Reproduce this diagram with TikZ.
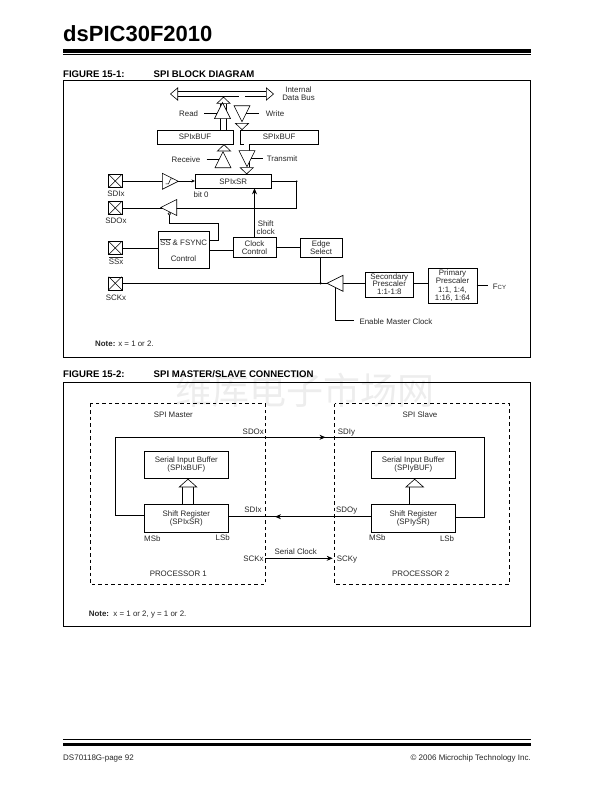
\documentclass[tikz,border=0pt]{standalone}
\usepackage{fontspec}
\setmainfont{Liberation Sans}
\newfontfamily\cjkfont{Noto Sans CJK SC}
\usetikzlibrary{arrows.meta}

\tikzset{
  lbl/.style={inner sep=0, text height=.72em, text depth=0pt, text=black!85, font=\fontsize{7.9}{8.5}\selectfont},
  multi/.style={inner sep=0, align=center, text=black!85, font=\fontsize{7.9}{8.5}\selectfont},
  head/.style={inner sep=0, anchor=west, text height=.72em, text depth=0pt, font=\fontsize{9.6}{10}\selectfont\bfseries},
  foot/.style={inner sep=0, text height=.72em, text depth=0pt, text=black!85, font=\fontsize{8}{9}\selectfont},
  blk/.style={draw, inner sep=0, outer sep=0, align=center, text=black!85, font=\fontsize{7.9}{8.5}\selectfont},
  pad/.style={draw, inner sep=0, outer sep=0, minimum size=13.2},
  tri/.style={draw, fill=white, line width=.6, line join=miter},
  wire/.style={line width=.75},
  fat/.style={line width=.6, double, double distance=5.2,
    -{Triangle[length=7pt,width=14.5pt,line width=.6pt,fill=white]}},
  fatter/.style={line width=.6, double, double distance=10,
    -{Triangle[length=8.5pt,width=19pt,line width=.6pt,fill=white]}},
  dashbox/.style={line width=.75, dash pattern=on 3.5pt off 3pt},
}
\newcommand{\tribuf}[3]{\coordinate (#1) at #2;
  \draw[tri,shift={#2},rotate=#3] (8,0) -- (-8,8) -- (-8,-8) -- cycle;}

\begin{document}
\begin{tikzpicture}[x=1pt, y=-1pt, >={Stealth[length=6pt,width=5pt]}]
\useasboundingbox (0,0) rectangle (612,791);

%page
\node [anchor=center, inner sep=0, text=black!7, font=\fontsize{37}{38}\cjkfont] (mark) at (305,390) {维库电子市场网};
\node [inner sep=0, anchor=base west, font=\fontsize{22}{26}\selectfont\bfseries] (title) at (63,42) {dsPIC30F2010};
\fill (63,49) rectangle (531,52.6);
\fill (63,53.6) rectangle (531,54.6);
\fill (63,739) rectangle (531,740);
\fill (63,742.7) rectangle (531,746);
\node [foot, anchor=west] (footl) at (63,756.5) {DS70118G-page 92};
\node [foot, anchor=east] (footr) at (531,756.5) {© 2006 Microchip Technology Inc.};

\node [head] (figa) at (63,74.3) {FIGURE 15-1:};
\node [head] (figatxt) at (153.5,74.3) {SPI BLOCK DIAGRAM};
\node [head] (figb) at (63,374) {FIGURE 15-2:};
\node [head] (figbtxt) at (153.5,374) {SPI MASTER/SLAVE CONNECTION};
\draw [line width=.8] (63.5,80.5) rectangle (530.7,357.5);
\draw [line width=.8] (63.5,382) rectangle (530.7,626);

%blocks
\node [blk, minimum width=75.4, minimum height=14.3] (bufl) at (195,137.2) {SPIxBUF};
\node [blk, minimum width=77.7, minimum height=14.3] (bufr) at (279.2,137.2) {SPIxBUF};
\node [blk, minimum width=76.7, minimum height=14] (sr) at (233.3,181.3) {SPIxSR};
\node [blk, minimum width=51.6, minimum height=36.6] (ss) at (183.5,250) {};
\node [lbl] (sstxt) at (183.5,242.3) {$\overline{\mbox{SS}}$ \& FSYNC};
\node [lbl] (ctl) at (183.5,258.3) {Control};
\node [blk, minimum width=42.4, minimum height=20.4] (cc) at (254.5,247.5) {Clock\\[-.6pt]Control};
\node [blk, minimum width=41.4, minimum height=19.4] (edge) at (321,248) {Edge\\[-.6pt]Select};
\node [blk, minimum width=48, minimum height=25.6] (sec) at (389.3,284.5) {Secondary\\[-1.6pt]Prescaler\\[-.4pt]1:1-1:8};
\node [blk, minimum width=48.4, minimum height=35] (pri) at (452.5,285.8) {Primary\\Prescaler\\1:1, 1:4,\\1:16, 1:64};

\node [pad] (sdix) at (115.2,181) {};
\node [pad] (sdox) at (115.2,208) {};
\node [pad] (ssx) at (115.2,248) {};
\node [pad] (sckx) at (115.2,283.3) {};
\foreach \p in {sdix,sdox,ssx,sckx}{
  \draw [line width=.5] (\p.north west) -- (\p.south east);
  \draw [line width=.5] (\p.north east) -- (\p.south west);
}

%lineas
\coordinate (busl) at (170,94);
\coordinate (busr) at (274,94);
\coordinate (readtip) at (223.5,96.7);
\coordinate (writetop) at (242,96.4);
\coordinate (rectip) at (224,144.3);
\coordinate (xmittip) at (246.7,174.3);
\coordinate (outcor) at (296.7,181.3);
\coordinate (sdocor) at (218.3,223.3);
\coordinate (mclk) at (320.6,283.3);
\coordinate (encor) at (335.3,320.7);
\coordinate (enend) at (354,320.7);
\coordinate (fcyend) at (488.3,285.8);

\draw [line width=.6, double, double distance=4.6,
  {Triangle[length=8pt,width=13.4pt,line width=.6pt,fill=white]}-{Triangle[length=8pt,width=13.4pt,line width=.6pt,fill=white]}]
  (busl) -- (busr);
\draw [fat] (bufl.north -| readtip) -- (readtip);
\draw [fat] (writetop) -- (writetop |- bufr.north);
\draw [fat] (sr.north -| rectip) -- (rectip);
\draw [fat] (bufr.south -| xmittip) -- (xmittip);

\draw [wire, -{Stealth[length=3.5pt,width=3pt]}] (sdix.east) -- (sdix.east -| sr.west);
\draw [wire] (sr.east) -- (outcor) |- (sdox.east);
\fill (outcor) circle (.9);
\draw [wire] (ss.east |- 0,240.7) -| (sdocor) -| (169.3,214);
\draw [wire] (ssx.east) -- (ssx.east -| ss.west);
\draw [wire] (ss.east) -- (ss.east -| cc.west);
\draw [wire] (cc.east) -- (cc.east -| edge.west);
\draw [wire, ->] (cc.north) -- (sr.south -| cc.north);
\draw [wire] (sckx.east) -- (sec.west |- sckx.east);
\draw [wire] (edge.south -| mclk) -- (mclk);
\fill (mclk) circle (1.2);
\draw [wire] (sec.east |- mclk) -- (pri.west |- mclk);
\draw [wire] (pri.east) -- (fcyend);
\draw [wire] (335.3,288) |- (enend);

%buffers
\tribuf{readb}{(222.5,110.6)}{90}
\tribuf{writeb}{(242,113.8)}{-90}
\tribuf{recb}{(223,159.8)}{90}
\tribuf{xmitb}{(247,158.7)}{-90}
\tribuf{inb}{(170.3,181.3)}{0}
\tribuf{outb}{(168.7,207.5)}{180}
\tribuf{clkb}{(335,283.3)}{180}
\draw [line width=.5] (165.5,184) -- (168.5,184) -- (170.5,179) -- (173,179);
\draw [line width=.5, fill=white] (169.3,213.8) circle (1.3);

\draw [wire] (204,113.3) -- (217.3,113.3);
\draw [wire] (246.2,113.3) -- (259,113.3);
\draw [wire] (206.7,159.3) -- (219.3,159.3);
\draw [wire] (251.2,158.3) -- (263,158.3);

%nodes
\node [lbl, anchor=west] (rd) at (179,113.3) {Read};
\node [lbl, anchor=west] (wr) at (265.7,113.3) {Write};
\node [lbl, anchor=west] (rcv) at (171.5,159.3) {Receive};
\node [lbl, anchor=west] (xmit) at (266.7,158.3) {Transmit};
\node [multi] (ibus) at (298.5,94) {Internal\\[-.6pt]Data Bus};
\node [lbl] (sditxt) at (116,192.5) {SDIx};
\node [lbl] (sdotxt) at (116,220) {SDOx};
\node [lbl] (sstxtb) at (116,260.5) {$\overline{\mbox{SSx}}$};
\node [lbl] (scktxt) at (116,297.3) {SCKx};
\node [lbl, anchor=west] (bit) at (193.5,194) {bit 0};
\node [multi] (shift) at (265.7,227.5) {Shift\\[-.6pt]clock};
\node [lbl, anchor=west] (fcy) at (492.7,285.8) {F{\fontsize{6}{6}\selectfont CY}};
\node [lbl, anchor=west] (enmc) at (359.3,320.7) {Enable Master Clock};
\node [lbl, anchor=west] (nota) at (95,343) {\textbf{Note:} x = 1 or 2.};

%master slave
\draw [dashbox] (90.3,403.5) rectangle (265.3,584);
\draw [dashbox] (334.7,403.5) rectangle (509.3,584);
\node [blk, minimum width=84, minimum height=27.6] (ibm) at (186.3,464.5) {Serial Input Buffer\\(SPIxBUF)};
\node [blk, minimum width=84, minimum height=28] (srm) at (186.3,518.3) {Shift Register\\(SPIxSR)};
\node [blk, minimum width=84.7, minimum height=27.6] (ibs) at (413.3,464.5) {Serial Input Buffer\\(SPIyBUF)};
\node [blk, minimum width=84.7, minimum height=28] (srs) at (413.3,518.3) {Shift Register\\(SPIySR)};

\coordinate (topl) at (115,437.3);
\coordinate (topr) at (484.7,437.3);
\coordinate (topm) at (325.5,437.3);
\coordinate (botm) at (275,516.7);
\coordinate (clkl) at (265.3,558.3);
\coordinate (clkr) at (332.7,558.3);

\draw [fatter] (srm.north -| 188,0) -- (188,478.8);
\draw [fatter] (srs.north -| 414.7,0) -- (414.7,478.8);
\draw [wire] (srm.west |- 0,515) -| (topl) -- (topr) |- (srs.east |- 0,517.3);
\draw [wire, ->] (topl) -- (topm);
\draw [wire] (srm.east |- botm) -- (srs.west |- botm);
\draw [wire, ->] (srs.west |- botm) -- (botm);
\draw [wire, ->] (clkl) -- (clkr);

\node [lbl] (spim) at (173.3,414.3) {SPI Master};
\node [lbl] (spis) at (420,414.3) {SPI Slave};
\node [lbl, anchor=east] (sdoxt) at (264,430.7) {SDOx};
\node [lbl, anchor=west] (sdiyt) at (337.7,430.7) {SDIy};
\node [lbl, anchor=east] (sdixt) at (261.7,509.3) {SDIx};
\node [lbl, anchor=west] (sdoyt) at (336,509.3) {SDOy};
\node [lbl, anchor=east] (sckxt) at (263.8,558.3) {SCKx};
\node [lbl, anchor=west] (sckyt) at (336.7,558.3) {SCKy};
\node [lbl] (sclk) at (295.7,551) {Serial Clock};
\node [lbl, anchor=west] (msbm) at (144,538.3) {MSb};
\node [lbl, anchor=east] (lsbm) at (230,537.3) {LSb};
\node [lbl, anchor=west] (msbs) at (369,537.3) {MSb};
\node [lbl, anchor=east] (lsbs) at (454.3,538.3) {LSb};
\node [lbl] (proca) at (178.3,573.3) {PROCESSOR 1};
\node [lbl] (procb) at (420.7,573.3) {PROCESSOR 2};
\node [lbl, anchor=west] (notb) at (88.7,613.3) {\textbf{Note:}\ \ x = 1 or 2, y = 1 or 2.};
\end{tikzpicture}
\end{document}
